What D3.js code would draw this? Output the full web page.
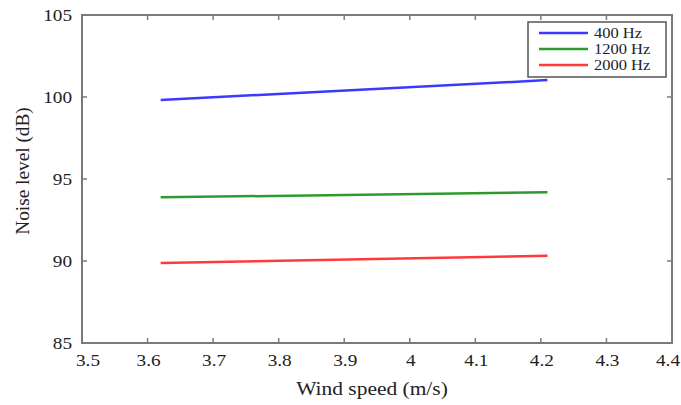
<!DOCTYPE html>
<html>
<head>
<meta charset="utf-8">
<script src="https://cdn.jsdelivr.net/npm/d3@7"></script>
<style>
  body { margin: 0; background: #fff; }
  svg text { font-family: "Liberation Serif", "DejaVu Serif", serif; fill: #222; }
</style>
</head>
<body>
<svg id="chart" width="681" height="405"></svg>
<script>
"use strict";

// data
var speed = [3.62, 4.21];
var hz400 = [99.82, 101.03];
var hz1200 = [93.88, 94.19];
var hz2000 = [89.88, 90.32];
var seriesNames = ["400 Hz", "1200 Hz", "2000 Hz"];
var seriesColors = ["#3a3aff", "#2e9a2e", "#ff3a3a"];
var xTicks = [3.5, 3.6, 3.7, 3.8, 3.9, 4.0, 4.1, 4.2, 4.3, 4.4];
var yTicks = [85, 90, 95, 100, 105];

var Draw = (function() {
  var svg = d3.select("#chart");
  var left = 82, right = 672, top = 15, bottom = 343;
  var stretch = 1.1;  // the source text is a bit wider than Liberation Serif

  var x = d3.scaleLinear().domain([3.5, 4.4]).range([left, right]);
  var y = d3.scaleLinear().domain([85, 105]).range([bottom, top]);
  var frameColor = "#7a7a7a";

  var put = (px, py) => "translate(" + px + "," + py + ") scale(" + stretch + ",1)";

  // ticks on all four sides, pointing inward
  var g = svg.append("g");
  g.selectAll("line.xb").data(xTicks).enter().append("line")
    .attr("x1", d => x(d)).attr("x2", d => x(d))
    .attr("y1", bottom).attr("y2", bottom - 5);
  g.selectAll("line.xt").data(xTicks).enter().append("line")
    .attr("x1", d => x(d)).attr("x2", d => x(d))
    .attr("y1", top).attr("y2", top + 5);
  g.selectAll("line.yl").data(yTicks).enter().append("line")
    .attr("x1", left).attr("x2", left + 5)
    .attr("y1", d => y(d)).attr("y2", d => y(d));
  g.selectAll("line.yr").data(yTicks).enter().append("line")
    .attr("x1", right).attr("x2", right - 5)
    .attr("y1", d => y(d)).attr("y2", d => y(d));
  g.selectAll("line").attr("stroke", frameColor).attr("stroke-width", 1.5);

  // tick labels; the end ones are nudged inward like in the source
  var last = xTicks.length - 1;
  svg.selectAll("text.xl").data(xTicks).enter().append("text")
    .attr("transform", (d, i) => put(x(d) + (i === 0 ? 6 : i === last ? -4 : 1), bottom + 23))
    .attr("text-anchor", "middle").style("font-size", "17.5px")
    .text(d => d3.format("~g")(d));
  svg.selectAll("text.yl").data(yTicks).enter().append("text")
    .attr("transform", d => put(left - 10, y(d) + 6))
    .attr("text-anchor", "end").style("font-size", "17.5px")
    .text(d => d);

  // axis titles
  svg.append("text").attr("transform", put(372, 395))
    .attr("text-anchor", "middle").style("font-size", "19.5px")
    .text("Wind speed (m/s)");
  svg.append("text")
    .attr("transform", "translate(29,171) rotate(-90)")
    .attr("text-anchor", "middle").style("font-size", "19.3px")
    .text("Noise level (dB)");

  // lines
  var line = d3.line().x(d => x(d[0])).y(d => y(d[1]));
  [hz400, hz1200, hz2000].forEach(function(vals, i) {
    svg.append("path")
      .datum(speed.map((s, j) => [s, vals[j]]))
      .attr("d", line)
      .attr("fill", "none")
      .attr("stroke", seriesColors[i])
      .attr("stroke-width", 2.5);
  });

  // frame
  svg.append("rect")
    .attr("x", left).attr("y", top)
    .attr("width", right - left).attr("height", bottom - top)
    .attr("fill", "none").attr("stroke", frameColor).attr("stroke-width", 2);

  // legend
  var leg = svg.append("g").attr("transform", "translate(528,22)");
  leg.append("rect").attr("width", 138).attr("height", 55)
    .attr("fill", "#fff").attr("stroke", "#555").attr("stroke-width", 1.5);
  seriesNames.forEach(function(name, i) {
    var yy = 11 + i * 16;
    leg.append("line").attr("x1", 11).attr("x2", 60)
      .attr("y1", yy).attr("y2", yy)
      .attr("stroke", seriesColors[i]).attr("stroke-width", 2.5);
    leg.append("text").attr("transform", put(66, yy + 5))
      .style("font-size", "15px").text(name);
  });
});

Draw();
</script>
</body>
</html>
